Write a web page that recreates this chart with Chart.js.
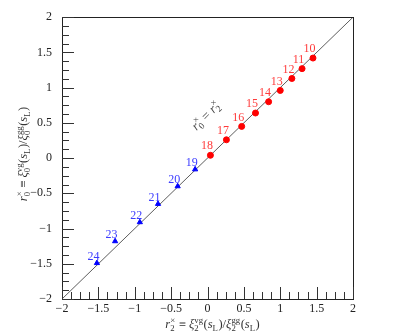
<!DOCTYPE html>
<html><head><meta charset="utf-8">
<script src="https://cdn.jsdelivr.net/npm/chart.js@4/dist/chart.umd.min.js"></script>
<style>html,body{margin:0;padding:0;background:#fff}canvas{display:block}</style>
</head><body>
<canvas id="c" width="416" height="335"></canvas>
<script>
// ---- data ----
const redLabels = ['10','11','12','13','14','15','16','17','18'];
const redX = [1.45, 1.30, 1.16, 1.00, 0.84, 0.66, 0.47, 0.26, 0.04];
const redY = [1.42, 1.27, 1.13, 0.96, 0.80, 0.64, 0.45, 0.26, 0.04];
const blueLabels = ['19','20','21','22','23','24'];
const blueX = [-0.17, -0.41, -0.68, -0.93, -1.27, -1.52];
const blueY = [-0.16, -0.40, -0.65, -0.91, -1.18, -1.49];
const diagX = [-2, 2];
const diagY = [-2, 2];
const axisMin = -2, axisMax = 2, majorStep = 0.5, minorStep = 0.125;

const SERIF = '"Liberation Serif", "DejaVu Serif", serif';
const toPts = (xs, ys) => xs.map((x, i) => ({x, y: ys[i]}));
const fmt = v => { const s = String(Math.round(v*100)/100); return v < 0 ? '\u2212' + s.slice(1) : s; };

// rich text: tokens {t, it} or {sub, sup}
function measureRich(ctx, toks, size) {
  let w = 0;
  for (const tk of toks) {
    if (tk.t !== undefined) { ctx.font = (tk.it ? 'italic ' : '') + size + 'px ' + SERIF; w += ctx.measureText(tk.t).width; }
    else {
      ctx.font = (size*0.7) + 'px ' + SERIF;
      const a = tk.sub ? ctx.measureText(tk.sub).width : 0;
      const b = tk.sup ? ctx.measureText(tk.sup).width : 0;
      w += Math.max(a, b) + 0.5;
    }
  }
  return w;
}
function drawRich(ctx, toks, size, x, y) {
  ctx.textBaseline = 'alphabetic'; ctx.textAlign = 'left';
  for (const tk of toks) {
    if (tk.t !== undefined) {
      ctx.font = (tk.it ? 'italic ' : '') + size + 'px ' + SERIF;
      ctx.fillText(tk.t, x, y); x += ctx.measureText(tk.t).width;
    } else {
      ctx.font = (size*0.7) + 'px ' + SERIF;
      let a = 0, b = 0;
      if (tk.sub) { ctx.fillText(tk.sub, x, y + size*0.22); a = ctx.measureText(tk.sub).width; }
      if (tk.sup) { ctx.fillText(tk.sup, x, y - size*0.4); b = ctx.measureText(tk.sup).width; }
      x += Math.max(a, b) + 0.5;
    }
  }
}
const xTitle = [{t:'r',it:true},{sub:'2',sup:'\u00d7'},{t:' \u2261 '},{t:'\u03be',it:true},{sub:'2',sup:'vg'},{t:'('},{t:'s',it:true},{sub:'L'},{t:')/'},{t:'\u03be',it:true},{sub:'2',sup:'gg'},{t:'('},{t:'s',it:true},{sub:'L'},{t:')'}];
const yTitle = [{t:'r',it:true},{sub:'0',sup:'\u00d7'},{t:' \u2261 '},{t:'\u03be',it:true},{sub:'0',sup:'vg'},{t:'('},{t:'s',it:true},{sub:'L'},{t:')/'},{t:'\u03be',it:true},{sub:'0',sup:'gg'},{t:'('},{t:'s',it:true},{sub:'L'},{t:')'}];
const diagText = [{t:'r',it:true},{sub:'0',sup:'\u00d7'},{t:' = '},{t:'r',it:true},{sub:'2',sup:'\u00d7'}];

const decor = {
  id: 'decor',
  afterDatasetsDraw(chart) {
    const ctx = chart.ctx, a = chart.chartArea, xs = chart.scales.x, ys = chart.scales.y;
    ctx.save();
    // frame
    ctx.strokeStyle = '#222'; ctx.lineWidth = 1;
    ctx.strokeRect(Math.round(a.left)+0.5, Math.round(a.top)+0.5, Math.round(a.right-a.left), Math.round(a.bottom-a.top));
    // inward ticks
    ctx.strokeStyle = '#333'; ctx.lineWidth = 1;
    const n = Math.round((axisMax-axisMin)/minorStep);
    for (let i = 0; i <= n; i++) {
      const v = axisMin + i*minorStep;
      const major = Math.abs(v/majorStep - Math.round(v/majorStep)) < 1e-6;
      const len = major ? 12 : 7;
      const px = Math.round(xs.getPixelForValue(v)) + 0.5;
      ctx.beginPath(); ctx.moveTo(px, a.bottom); ctx.lineTo(px, a.bottom - len); ctx.stroke();
      const py = Math.round(ys.getPixelForValue(v)) + 0.5;
      ctx.beginPath(); ctx.moveTo(a.left, py); ctx.lineTo(a.left + len, py); ctx.stroke();
    }
    // point labels
    ctx.font = '12px ' + SERIF; ctx.textAlign = 'center'; ctx.textBaseline = 'middle';
    ctx.fillStyle = '#ff3b3b';
    redLabels.forEach((l, i) => ctx.fillText(l, xs.getPixelForValue(redX[i]) - 3.5, ys.getPixelForValue(redY[i]) - 9));
    ctx.fillStyle = '#3b3bff';
    blueLabels.forEach((l, i) => ctx.fillText(l, xs.getPixelForValue(blueX[i]) - 3.5, ys.getPixelForValue(blueY[i]) - 6.5));
    // diagonal annotation
    ctx.fillStyle = '#444';
    ctx.save();
    ctx.translate(xs.getPixelForValue(-0.02), ys.getPixelForValue(0.60));
    ctx.rotate(-Math.PI/4);
    const wd = measureRich(ctx, diagText, 13);
    drawRich(ctx, diagText, 13, -wd/2, 4);
    ctx.restore();
    // axis titles
    ctx.fillStyle = '#333';
    const wx = measureRich(ctx, xTitle, 12.5);
    drawRich(ctx, xTitle, 12.5, (a.left + a.right)/2 + 5 - wx/2, 328);
    ctx.save();
    ctx.translate(27, 154);
    ctx.rotate(-Math.PI/2);
    const wy = measureRich(ctx, yTitle, 12.5);
    drawRich(ctx, yTitle, 12.5, -wy/2, 0);
    ctx.restore();
    ctx.restore();
  }
};

new Chart(document.getElementById('c'), {
  type: 'scatter',
  data: {
    datasets: [
      { type: 'line', data: toPts(diagX, diagY), borderColor: '#333', borderWidth: 0.8, pointRadius: 0, fill: false, order: 3 },
      { data: toPts(redX, redY), backgroundColor: '#ff0000', borderColor: '#ff0000', pointRadius: 3, pointStyle: 'circle', order: 1 },
      { data: toPts(blueX, blueY), backgroundColor: '#0000ff', borderColor: '#0000ff', pointRadius: 3, pointStyle: 'triangle', order: 2 }
    ]
  },
  options: {
    responsive: false, animation: false, devicePixelRatio: 1,
    layout: { padding: { top: 8, right: 63, bottom: 0, left: 0 } },
    plugins: { legend: { display: false }, tooltip: { enabled: false } },
    scales: {
      x: {
        type: 'linear', min: axisMin, max: axisMax,
        grid: { display: false, drawTicks: false }, border: { display: false },
        ticks: { stepSize: majorStep, padding: 3, color: '#222', font: { family: SERIF, size: 12 }, callback: v => fmt(v), maxRotation: 0, autoSkip: false },
        afterFit: s => { s.height = 36; }
      },
      y: {
        type: 'linear', min: axisMin, max: axisMax,
        grid: { display: false, drawTicks: false }, border: { display: false },
        ticks: { stepSize: majorStep, padding: 10, color: '#222', font: { family: SERIF, size: 12 }, callback: v => fmt(v), autoSkip: false },
        afterFit: s => { s.width = 62; }
      }
    }
  },
  plugins: [decor]
});
</script>
</body></html>
